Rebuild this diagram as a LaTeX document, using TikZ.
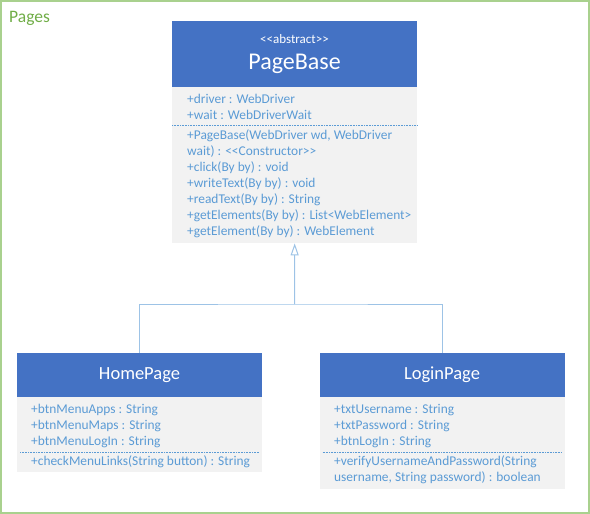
\documentclass[tikz,border=0pt]{standalone}
\usepackage{fontspec}
\setmainfont{Carlito}[Ligatures=TeXOff]
\usetikzlibrary{arrows.meta, positioning}
\definecolor{umlblue}{HTML}{4472C4}
\definecolor{textblue}{HTML}{5B9BD5}
\definecolor{bodygray}{HTML}{F2F2F2}
\definecolor{linkblue}{HTML}{9DC3E6}
\definecolor{framegreen}{HTML}{A9D18E}
\definecolor{titlegreen}{HTML}{70AD47}

\begin{document}
\begin{tikzpicture}[x=1pt,y=-1pt,
        head node/.style={rectangle,fill=umlblue,anchor=north west,inner sep=0,minimum width=245pt},
        body node/.style={rectangle,fill=bodygray,anchor=north west,inner sep=0,minimum width=245pt},
        head text/.style={anchor=base,inner sep=0,text=white},
        member/.style={anchor=base west,inner sep=0,text=textblue,font=\fontsize{13.4}{15}\selectfont},
        sep line/.style={textblue,densely dotted,line width=0.6pt},
        link/.style={linkblue,line width=1pt}]

  \useasboundingbox (0,0) rectangle (590,514);
  \draw[framegreen,line width=1.5pt] (1,1) rectangle (589,513);
  \node[anchor=base west,inner sep=0,text=titlegreen,font=\fontsize{17.5}{20}\selectfont] (title) at (9,23) {Pages};

  % abstract base class
  \node[head node,minimum height=66pt] (base head) at (172,21) {};
  \node[body node,minimum height=156pt] (base body) at (172,87) {};
  \node[head text,font=\fontsize{13}{15}\selectfont] (base stereo) at (294.5,43) {<<abstract>>};
  \node[head text,font=\fontsize{24}{28}\selectfont] (base name) at (294.5,69.5) {PageBase};
  \foreach \txt [count=\i from 0] in {+driver : WebDriver, +wait : WebDriverWait}
    \node[member] (base attr\i) at (187,103+16*\i) {\txt};
  \draw[sep line] (base body.north west) ++(0,38) -- ++(245,0);
  \foreach \txt [count=\i from 0] in {{+PageBase(WebDriver wd, WebDriver}, wait) : <<Constructor>>,
      +click(By by) : void, +writeText(By by) : void, +readText(By by) : String,
      +getElements(By by) : List<WebElement>, +getElement(By by) : WebElement}
    \node[member] (base op\i) at (187,139+16*\i) {\txt};

  % home page
  \node[head node,minimum height=44pt] (home head) at (17,353) {};
  \node[body node,minimum height=75pt] (home body) at (17,397) {};
  \node[head text,font=\fontsize{18.5}{22}\selectfont] (home name) at (139.5,379.5) {HomePage};
  \foreach \txt [count=\i from 0] in {+btnMenuApps : String, +btnMenuMaps : String, +btnMenuLogIn : String}
    \node[member] (home attr\i) at (31,413+16*\i) {\txt};
  \draw[sep line] (home body.north west) ++(3,55) -- ++(239,0);
  \node[member] (home op0) at (31,465) {+checkMenuLinks(String button) : String};

  % login page
  \node[head node,minimum height=44pt] (login head) at (319.5,353) {};
  \node[body node,minimum height=92pt] (login body) at (319.5,397) {};
  \node[head text,font=\fontsize{18.5}{22}\selectfont] (login name) at (442,379.5) {LoginPage};
  \foreach \txt [count=\i from 0] in {+txtUsername : String, +txtPassword : String, +btnLogIn : String}
    \node[member] (login attr\i) at (334,413+16*\i) {\txt};
  \draw[sep line] (login body.north west) ++(3,55) -- ++(239,0);
  \foreach \txt [count=\i from 0] in {+verifyUsernameAndPassword(String, {username, String password) : boolean}}
    \node[member] (login op\i) at (334,465+16*\i) {\txt};

  % generalisation
  \coordinate (join) at (294.5,304);
  \draw[link] (home head.north) |- (join) -| (login head.north);
  \draw[link,-{Triangle[open,width=8pt,length=12pt]}] (join) -- (base body.south);
\end{tikzpicture}
\end{document}
